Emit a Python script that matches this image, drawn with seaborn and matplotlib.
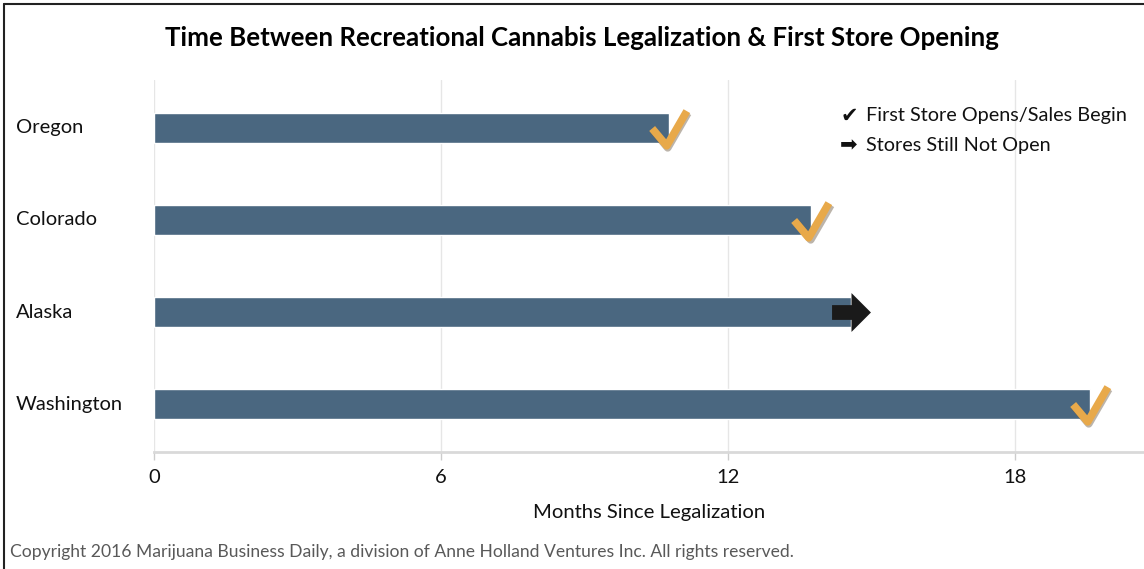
import numpy as np
import pandas as pd
import matplotlib
matplotlib.use("Agg")
import matplotlib.pyplot as plt
import matplotlib.transforms as mtransforms
from matplotlib.path import Path
from matplotlib.lines import Line2D
import seaborn as sns

# Data
states = ["Oregon", "Colorado", "Alaska", "Washington"]
months = [10.77, 13.74, 14.57, 19.57]
status = ["open", "open", "not open", "open"]
xticks = [0, 6, 12, 18]

title = "Time Between Recreational Cannabis Legalization & First Store Opening"
xlabel = "Months Since Legalization"
legend_labels = ["First Store Opens/Sales Begin", "Stores Still Not Open"]
footer = "Copyright 2016 Marijuana Business Daily, a division of Anne Holland Ventures Inc. All rights reserved."

df = pd.DataFrame({"state": states, "months": months, "status": status})

bar_color = "#4a6780"
check_color = "#e8a94a"
grid_color = "#e6e6e6"

sns.set_theme(style="white")
plt.rcParams["font.family"] = ["Lato", "DejaVu Sans"]

fig = plt.figure(figsize=(11.44, 5.69), dpi=100)
ax = fig.add_axes([154 / 1144, 1 - 452 / 569, 1 - 154 / 1144, (452 - 80) / 569])

sns.barplot(data=df, x="months", y="state", orient="h", color=bar_color,
            width=0.33, saturation=1, ax=ax, zorder=2)

# marker shapes: a check for opened stores, an arrow for not yet open
check_path = Path([(-0.5, 0.0), (-0.08, -0.5), (0.5, 0.5)],
                  [Path.MOVETO, Path.LINETO, Path.LINETO])
arrow_path = Path([(-0.5, -0.19), (0.0, -0.19), (0.0, -0.5), (0.5, 0.0),
                   (0.0, 0.5), (0.0, 0.19), (-0.5, 0.19), (-0.5, -0.19)],
                  [Path.MOVETO] + [Path.LINETO] * 6 + [Path.CLOSEPOLY])

opened = df[df["status"] == "open"]
not_open = df[df["status"] == "not open"]
ypos = {s: i for i, s in enumerate(states)}

# soft shadow under the checks
shadow = mtransforms.offset_copy(ax.transData, fig=fig, x=1, y=-1.5, units="points")
ax.plot(opened["months"], [ypos[s] for s in opened["state"]], linestyle="none",
        marker=check_path, markersize=25, markeredgewidth=5.5,
        markeredgecolor="#6b5a44", fillstyle="none", alpha=0.45, zorder=3,
        transform=shadow)
ax.plot(opened["months"], [ypos[s] for s in opened["state"]], linestyle="none",
        marker=check_path, markersize=25, markeredgewidth=5.5,
        markeredgecolor=check_color, fillstyle="none", zorder=4)
ax.plot(not_open["months"], [ypos[s] for s in not_open["state"]], linestyle="none",
        marker=arrow_path, markersize=28, color="#1a1a1a", markeredgewidth=0, zorder=4)

ax.set_xlim(0, 20.7)
ax.set_ylim(3.52, -0.52)
ax.set_xticks(xticks)
ax.set_xticklabels([str(t) for t in xticks], fontsize=14.5, color="#111111")
ax.set_yticklabels([])
ax.set_ylabel("")
ax.set_xlabel(xlabel, fontsize=14.6, color="#111111", labelpad=13)
ax.tick_params(axis="x", length=6, width=1, color="#cccccc", pad=6, bottom=True)
ax.tick_params(axis="y", length=0)
ax.xaxis.grid(True, color=grid_color, linewidth=1, zorder=0)
ax.set_axisbelow(True)
for side in ["top", "right", "left"]:
    ax.spines[side].set_visible(False)
ax.spines["bottom"].set_color("#d9d9d9")
ax.spines["bottom"].set_linewidth(2)

# category labels at the left edge of the figure
label_tr = mtransforms.blended_transform_factory(fig.transFigure, ax.transData)
for s in states:
    ax.text(16 / 1144, ypos[s], s, transform=label_tr,
            fontsize=14.5, va="center", ha="left", color="#111111")

# legend
fig.text(849 / 1144, 1 - 116 / 569, "\u2714", fontsize=15, va="center", ha="center",
         color="#111111", family=["DejaVu Sans"])
fig.text(866 / 1144, 1 - 116 / 569, legend_labels[0], fontsize=14.3, va="center", ha="left",
         color="#111111")
fig.text(849 / 1144, 1 - 145 / 569, "\u27a1", fontsize=15, va="center", ha="center",
         color="#111111", family=["DejaVu Sans"])
fig.text(866 / 1144, 1 - 145 / 569, legend_labels[1], fontsize=14.3, va="center", ha="left",
         color="#111111")

fig.text(582 / 1144, 1 - 38 / 569, title, fontsize=18.6, fontweight="bold",
         va="center", ha="center", color="#000000")
fig.text(10 / 1144, 1 - 552 / 569, footer, fontsize=12.6, va="center", ha="left",
         color="#595959")

# frame along the top and left of the image
fig.add_artist(Line2D([4 / 1144, 1], [1 - 4 / 569, 1 - 4 / 569], transform=fig.transFigure,
                      color="#222222", linewidth=1.5))
fig.add_artist(Line2D([4 / 1144, 4 / 1144], [0, 1 - 4 / 569], transform=fig.transFigure,
                      color="#222222", linewidth=1.5))

fig.savefig("out.png", dpi=100)
